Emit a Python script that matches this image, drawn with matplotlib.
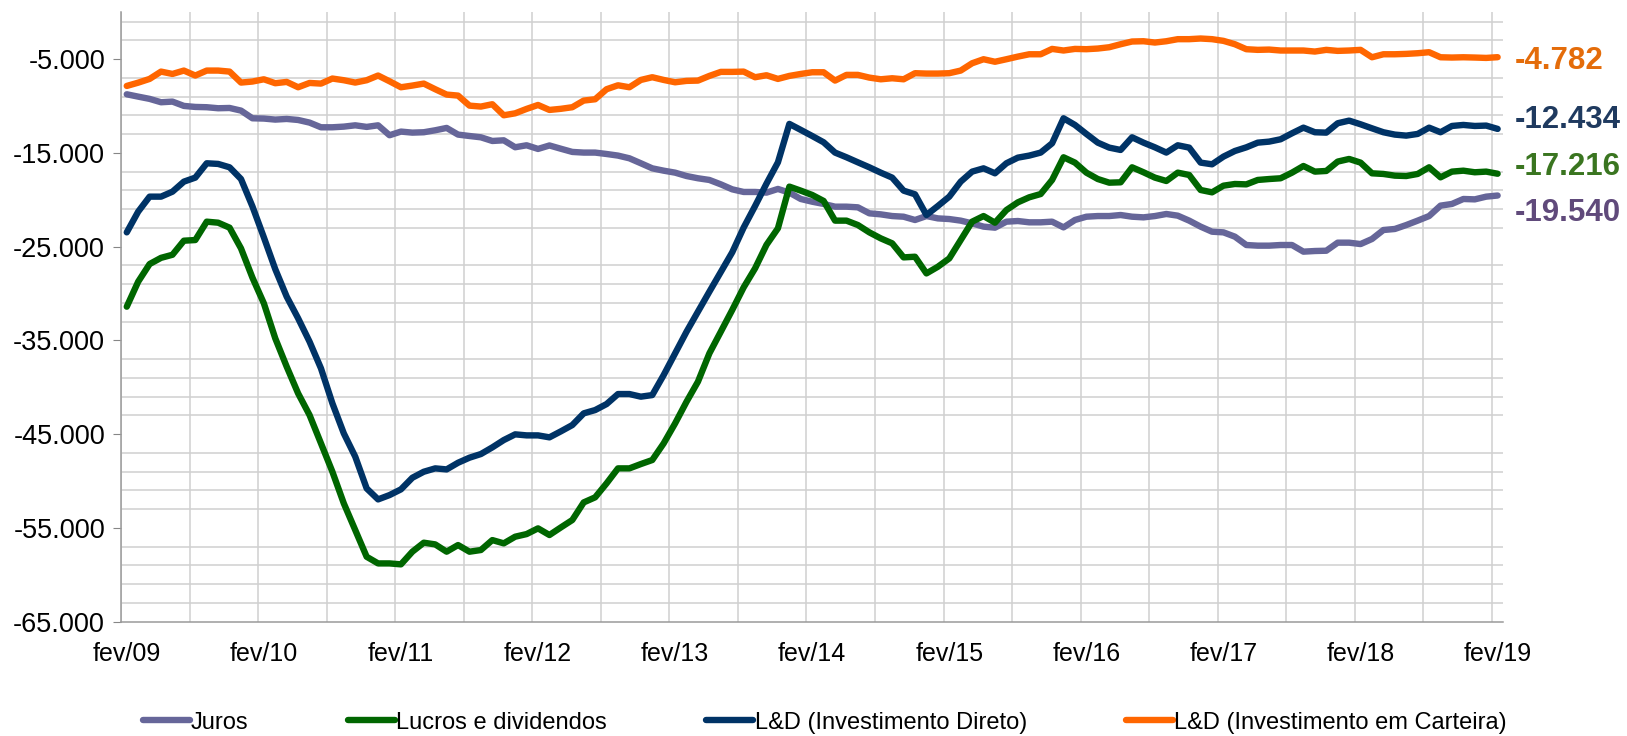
import matplotlib.pyplot as plt
from matplotlib.ticker import FixedLocator

plt.rcParams['font.family'] = ['Liberation Sans', 'DejaVu Sans']

# monthly series, fev/09 .. fev/19 (US$ milhões, acumulado 12 meses)
juros = [
    -8740, -8990, -9230, -9590, -9520, -9980, -10090, -10120, -10230, -10200,
    -10480, -11300, -11330, -11440, -11370, -11480, -11760, -12260, -12260, -12190,
    -12050, -12220, -12050, -13110, -12720, -12830, -12790, -12580, -12330, -13040,
    -13190, -13330, -13720, -13650, -14390, -14180, -14570, -14200, -14550, -14890,
    -14960, -14960, -15110, -15280, -15570, -16100, -16640, -16890, -17100, -17460,
    -17700, -17880, -18350, -18880, -19160, -19160, -19230, -18840, -19230, -19910,
    -20200, -20440, -20730, -20730, -20800, -21440, -21550, -21730, -21800, -22150,
    -21730, -21980, -22050, -22220, -22510, -22860, -22970, -22330, -22260, -22400,
    -22400, -22330, -22940, -22150, -21800, -21730, -21730, -21620, -21800, -21870,
    -21730, -21510, -21690, -22220, -22860, -23400, -23470, -23930, -24820, -24890,
    -24890, -24820, -24820, -25530, -25460, -25430, -24570, -24570, -24720, -24180,
    -23220, -23110, -22690, -22220, -21730, -20620, -20440, -19910, -19950, -19660,
    -19540,
]
lucros = [
    -31400, -28730, -26850, -26190, -25860, -24360, -24290, -22330, -22440, -22970,
    -25180, -28300, -31040, -34780, -37800, -40650, -42960, -45980, -49010, -52390,
    -55230, -58080, -58790, -58790, -58890, -57540, -56580, -56760, -57540, -56830,
    -57540, -57360, -56300, -56650, -55940, -55660, -55050, -55760, -54950, -54160,
    -52280, -51740, -50250, -48650, -48650, -48190, -47760, -45980, -43850, -41540,
    -39400, -36380, -34070, -31750, -29340, -27310, -24800, -23040, -18590, -19020,
    -19480, -20120, -22220, -22220, -22690, -23470, -24110, -24640, -26140, -26070,
    -27850, -27140, -26250, -24290, -22330, -21730, -22440, -21090, -20270, -19730,
    -19380, -17880, -15460, -16030, -17100, -17780, -18170, -18130, -16530, -17060,
    -17630, -17990, -17100, -17350, -18950, -19200, -18490, -18310, -18350, -17880,
    -17780, -17700, -17100, -16390, -16990, -16920, -15920, -15640, -16030, -17170,
    -17240, -17420, -17460, -17240, -16530, -17600, -16990, -16890, -17060, -16990,
    -17216,
]
ld_direto = [
    -23470, -21260, -19660, -19660, -19130, -18060, -17630, -16100, -16170, -16530,
    -17780, -20700, -24000, -27400, -30330, -32640, -35130, -37980, -41710, -44920,
    -47400, -50790, -51960, -51500, -50890, -49650, -49010, -48650, -48760, -48050,
    -47510, -47120, -46410, -45630, -45020, -45130, -45130, -45340, -44700, -44030,
    -42780, -42430, -41790, -40720, -40720, -41000, -40830, -38690, -36380, -34070,
    -31930, -29800, -27700, -25600, -22960, -20660, -18270, -16000, -11900, -12540,
    -13190, -13860, -14960, -15460, -16000, -16530, -17100, -17630, -19020, -19410,
    -21620, -20660, -19660, -18060, -16990, -16640, -17170, -16100, -15500, -15280,
    -14960, -13970, -11300, -12010, -12970, -13900, -14430, -14680, -13330, -13900,
    -14400, -14960, -14180, -14430, -16030, -16210, -15390, -14790, -14400, -13900,
    -13790, -13540, -12900, -12300, -12790, -12830, -11830, -11550, -11940, -12370,
    -12790, -13040, -13150, -12970, -12300, -12790, -12120, -12010, -12120, -12080,
    -12434,
]
ld_carteira = [
    -7850, -7500, -7100, -6320, -6570, -6210, -6740, -6210, -6210, -6320,
    -7490, -7380, -7140, -7560, -7420, -7990, -7530, -7600, -7060, -7240,
    -7490, -7240, -6740, -7350, -7990, -7810, -7600, -8200, -8770, -8880,
    -9950, -10050, -9800, -10980, -10770, -10300, -9880, -10410, -10290, -10120,
    -9410, -9270, -8200, -7780, -7990, -7210, -6920, -7210, -7460, -7310,
    -7280, -6780, -6350, -6350, -6320, -6920, -6710, -7100, -6780, -6570,
    -6390, -6390, -7280, -6670, -6670, -6960, -7140, -7030, -7140, -6490,
    -6530, -6530, -6490, -6210, -5430, -5000, -5270, -5000, -4720, -4470,
    -4470, -3900, -4070, -3900, -3930, -3860, -3720, -3400, -3110, -3080,
    -3220, -3080, -2860, -2860, -2790, -2860, -3040, -3400, -3930, -4000,
    -3970, -4070, -4070, -4070, -4180, -4000, -4110, -4070, -4000, -4790,
    -4470, -4470, -4430, -4360, -4250, -4790, -4820, -4790, -4820, -4860,
    -4782,
]
year_labels = ['fev/09', 'fev/10', 'fev/11', 'fev/12', 'fev/13', 'fev/14',
               'fev/15', 'fev/16', 'fev/17', 'fev/18', 'fev/19']


def fmt(v):
    return f"{v:,}".replace(',', '.')


months = list(range(len(juros)))

fig = plt.figure(figsize=(16.27, 7.36), dpi=100)
ax = fig.add_axes([0.0744, 0.1554, 0.8496, 0.8278])

series = [
    (juros, 'Juros', '#666699', '#604a7b', -12.5),
    (lucros, 'Lucros e dividendos', '#006600', '#3a7520', 5),
    (ld_direto, 'L&D (Investimento Direto)', '#003366', '#1f3a5f', 6.5),
    (ld_carteira, 'L&D (Investimento em Carteira)', '#ff6600', '#e46c0a', -2.5),
]
for vals, name, color, lab_color, dy in series:
    ax.plot(months, vals, color=color, lw=4.6, label=name,
            solid_capstyle='round', solid_joinstyle='round')
    ax.annotate(fmt(vals[-1]), xy=(months[-1], vals[-1]),
                xytext=(12, dy), textcoords='offset points',
                ha='left', va='center', fontsize=22.5, fontweight='bold',
                color=lab_color, annotation_clip=False)

ax.set_xlim(-0.5, 120.5)
ax.set_ylim(-65000, 0)

ax.set_xticks(months[::12])
ax.set_xticklabels(year_labels)
ax.xaxis.set_minor_locator(FixedLocator([m - 0.5 for m in months[::6]]))
yt = list(range(-65000, 0, 10000))
ax.set_yticks(yt)
ax.set_yticklabels([fmt(v) for v in yt])
ax.yaxis.set_minor_locator(FixedLocator(list(range(-65000, 0, 2000))))

ax.grid(which='minor', color='#d0d0d0', lw=1.1)
ax.grid(which='major', visible=False)
ax.set_axisbelow(True)
ax.tick_params(axis='x', which='both', length=0, pad=15, labelsize=18)
ax.tick_params(axis='y', which='major', length=6, color='#868686',
               pad=5.5, labelsize=19.5)
ax.tick_params(axis='y', which='minor', length=0)

for side in ['top', 'right']:
    ax.spines[side].set_visible(False)
for side in ['left', 'bottom']:
    ax.spines[side].set_color('#9a9a9a')
    ax.spines[side].set_linewidth(1.1)

fig.legend(loc='center', bbox_to_anchor=(0.507, 0.018), ncol=4,
           frameon=False, fontsize=17, handlelength=2.0, handletextpad=0.05,
           columnspacing=4.2, borderpad=0)

fig.savefig('out.png', dpi=100)
